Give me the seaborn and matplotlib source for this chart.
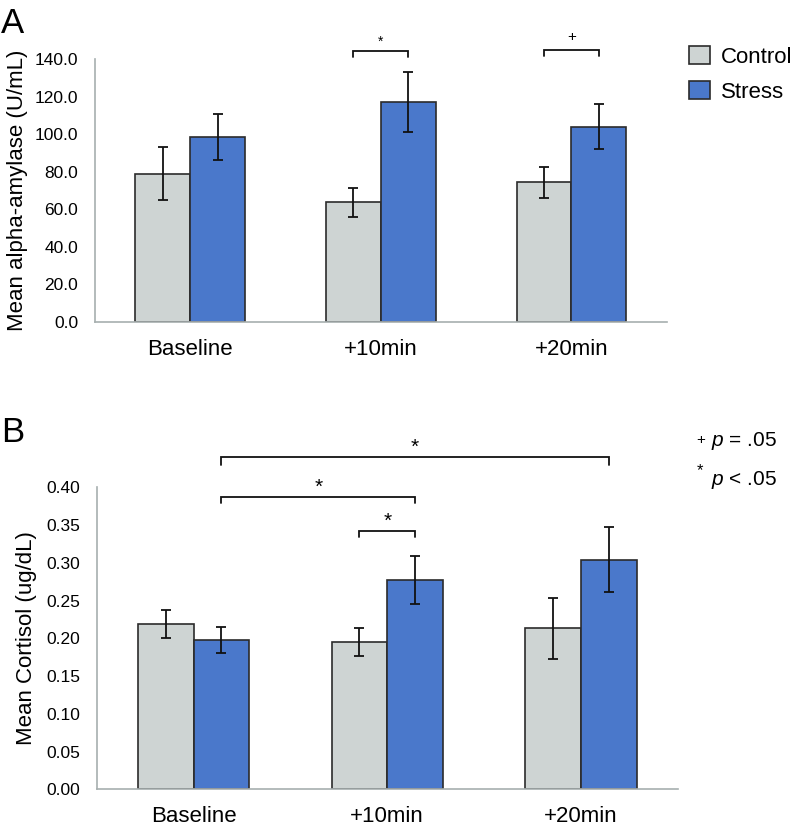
import numpy as np
import pandas as pd
import matplotlib
matplotlib.use("Agg")
import matplotlib.pyplot as plt
import seaborn as sns

# values
timepoints = ["Baseline", "+10min", "+20min"]
groups = ["Control", "Stress"]

amylase_control = [79.0, 63.8, 74.4]
amylase_stress = [98.4, 117.2, 103.9]
amylase_control_err = [14.3, 7.7, 8.3]
amylase_stress_err = [12.4, 16.0, 11.9]

cortisol_control = [0.219, 0.195, 0.213]
cortisol_stress = [0.198, 0.277, 0.304]
cortisol_control_err = [0.019, 0.018, 0.041]
cortisol_stress_err = [0.017, 0.032, 0.043]

amylase_ticks = [0, 20, 40, 60, 80, 100, 120, 140]
cortisol_ticks = [0.0, 0.05, 0.10, 0.15, 0.20, 0.25, 0.30, 0.35, 0.40]

palette = {"Control": "#ced4d3", "Stress": "#4a78cb"}
EDGE = "#2b2b2b"
AXIS = "#a7afaf"
INK = "#111111"

sns.set_style("white")
plt.rcParams["font.family"] = ["Liberation Sans", "DejaVu Sans"]
plt.rcParams["mathtext.fontset"] = "custom"
plt.rcParams["mathtext.it"] = "Liberation Sans:italic"
plt.rcParams["mathtext.rm"] = "Liberation Sans"
for key in ["text.color", "axes.labelcolor", "xtick.color", "ytick.color"]:
    plt.rcParams[key] = "black"

fig = plt.figure(figsize=(7.93, 8.26), dpi=100)
W, H = 793, 826


def px_axes(left, top, right, bottom):
    return fig.add_axes([left / W, 1 - bottom / H, (right - left) / W, (bottom - top) / H])


def draw_panel(ax, ctrl, strs, ctrl_err, strs_err, ticks, fmt, ylabel, legend):
    df = pd.DataFrame({
        "time": timepoints * 2,
        "group": ["Control"] * 3 + ["Stress"] * 3,
        "value": ctrl + strs,
    })
    sns.barplot(data=df, x="time", y="value", hue="group", order=timepoints,
                hue_order=groups, palette=palette, width=0.575, saturation=1,
                edgecolor=EDGE, linewidth=1.2, errorbar=None, legend=legend, ax=ax)
    centers = {}
    for container, err, g in zip(ax.containers, [ctrl_err, strs_err], groups):
        xs = [p.get_x() + p.get_width() / 2 for p in container.patches]
        hs = [p.get_height() for p in container.patches]
        ax.errorbar(xs, hs, yerr=err, fmt="none", ecolor=INK, elinewidth=1.3,
                    capsize=3.8, capthick=1.3, zorder=5)
        centers[g] = xs

    ax.set_xlim(-0.5, 2.5)
    ax.set_ylim(ticks[0], ticks[-1])
    ax.set_yticks(ticks)
    ax.set_yticklabels([fmt.format(t) for t in ticks], fontsize=12.5)
    ax.set_xticks(range(3))
    ax.set_xticklabels(timepoints, fontsize=16)
    ax.set_xticks([-0.5, 0.5, 1.5, 2.5], minor=True)
    ax.tick_params(axis="x", which="major", length=0, pad=12)
    ax.tick_params(axis="x", which="minor", length=5, width=1.2, color=AXIS, direction="out")
    ax.tick_params(axis="y", length=5, width=1.2, color=AXIS, direction="out", pad=7)
    ax.set_xlabel("")
    ax.set_ylabel(ylabel, fontsize=16)
    for s in ["top", "right"]:
        ax.spines[s].set_visible(False)
    for s in ["left", "bottom"]:
        ax.spines[s].set_color(AXIS)
        ax.spines[s].set_linewidth(1.2)
    return centers


def bracket(ax, x0, x1, y, tip, label, fs, dy):
    ax.plot([x0, x0, x1, x1], [y - tip, y, y, y - tip], color=INK, lw=1.3,
            clip_on=False, solid_joinstyle="miter")
    ax.annotate(label, xy=((x0 + x1) / 2, y), xytext=(0, dy), textcoords="offset points",
                ha="center", va="baseline", fontsize=fs, annotation_clip=False)


# panel A: alpha-amylase
ax_a = px_axes(95, 59, 666.7, 322)
ca = draw_panel(ax_a, amylase_control, amylase_stress, amylase_control_err,
                amylase_stress_err, amylase_ticks, "{:.1f}", "Mean alpha-amylase (U/mL)", True)
ax_a.yaxis.set_label_coords(-0.118, 0.5)
bracket(ax_a, ca["Control"][1], ca["Stress"][1], 144.4, 3.2, "*", 10, 3.5)
bracket(ax_a, ca["Control"][2], ca["Stress"][2], 144.6, 3.2, "+", 11, 7)
sns.move_legend(ax_a, loc="upper left", bbox_to_anchor=(689 / W, 1 - 46 / H),
                bbox_transform=fig.transFigure, frameon=False, title=None, fontsize=16,
                handlelength=0.95, handleheight=0.85, handletextpad=0.5,
                labelspacing=0.62, borderpad=0, borderaxespad=0)

# panel B: cortisol
ax_b = px_axes(96.7, 487.3, 677.7, 789.3)
cb = draw_panel(ax_b, cortisol_control, cortisol_stress, cortisol_control_err,
                cortisol_stress_err, cortisol_ticks, "{:.2f}", "Mean Cortisol (ug/dL)", False)
ax_b.yaxis.set_label_coords(-0.103, 0.5)
bracket(ax_b, cb["Stress"][0], cb["Stress"][2], 0.4397, 0.010, "*", 15, 3)
bracket(ax_b, cb["Stress"][0], cb["Stress"][1], 0.3875, 0.008, "*", 15, 3)
bracket(ax_b, cb["Control"][1], cb["Stress"][1], 0.342, 0.008, "*", 15, 3)

# panel letters
fig.text(1 / W, 1 - 33 / H, "A", fontsize=25, va="baseline", ha="left")
fig.text(1 / W, 1 - 442 / H, "B", fontsize=25, va="baseline", ha="left")

# significance key
fig.text(696 / W, 1 - 444 / H, "+", fontsize=11, va="baseline", ha="left")
fig.text(711 / W, 1 - 446 / H, r"$p$ = .05", fontsize=15, va="baseline", ha="left")
fig.text(697 / W, 1 - 475 / H, "*", fontsize=12, va="baseline", ha="left")
fig.text(711 / W, 1 - 485 / H, r"$p$ < .05", fontsize=15, va="baseline", ha="left")

fig.savefig("out.png", dpi=100)
